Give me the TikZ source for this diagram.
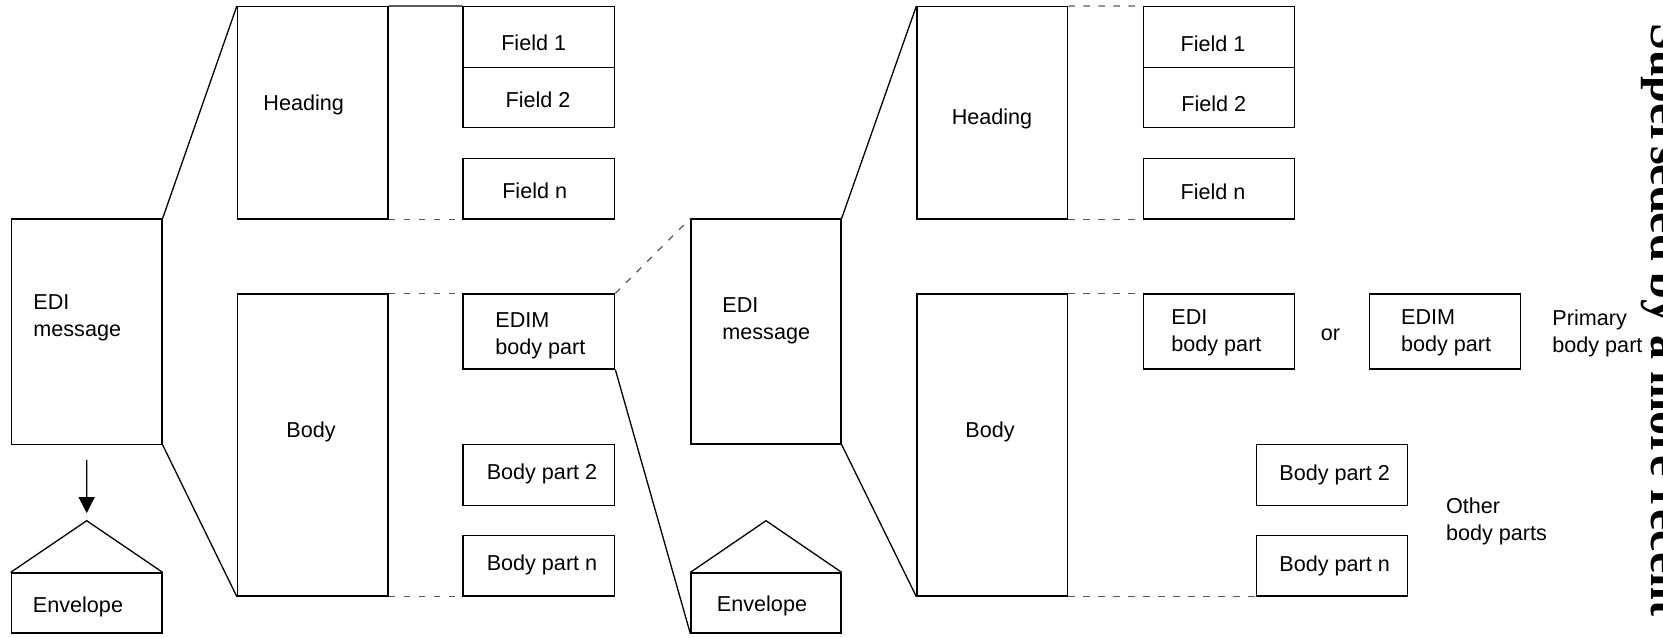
\documentclass[tikz,border=0pt]{standalone}
\usepackage{fontspec}
\setmainfont{Liberation Sans}
\newfontfamily\wmfont{Liberation Serif}
\usetikzlibrary{fit,arrows.meta}
\tikzset{
  box/.style={draw=black, line width=0.65pt, inner sep=0pt},
  lbl/.style={font=\fontsize{10.8}{13.5}\selectfont, inner sep=0pt},
  lbll/.style={lbl, align=left, anchor=west},
  solidline/.style={draw=black, line width=0.65pt},
  dashline/.style={draw=black!65, line width=0.65pt, dash pattern=on 3.3pt off 4.2pt},
  arrowline/.style={draw=black, line width=0.65pt, -{Triangle[length=8pt,width=8pt]}},
  roof/.style={draw=black, line width=0.65pt, line join=miter}
}
\begin{document}
\begin{tikzpicture}[x=0.5pt,y=-0.5pt]
\path[use as bounding box, clip] (0,0) rectangle (1663,637);
% ---------- left half ----------
\node[box, fit={(11.3,219) (162,444.3)}] (edil) {};
\node[box, fit={(11.3,573) (162,633)}] (envl) {};
\coordinate (apexl) at (86.7,520.7);
\node[box, fit={(237.5,6.7) (388,219)}] (headl) {};
\node[box, fit={(237.5,294) (388,596)}] (bodyl) {};
\node[box, fit={(463,6.7) (614.7,67.7)}] (f1l) {};
\node[box, fit={(463,67.7) (614.7,127.5)}] (f2l) {};
\node[box, fit={(463,158.3) (614.7,219)}] (fnl) {};
\node[box, fit={(463,294) (614.7,369)}] (edimbpl) {};
\node[box, fit={(463,444.7) (614.7,505.5)}] (bp2l) {};
\node[box, fit={(463,535.5) (614.7,596)}] (bpnl) {};
% ---------- right half ----------
\node[box, fit={(691,219) (841,444)}] (edir) {};
\node[box, fit={(691,573) (841,633)}] (envr) {};
\coordinate (apexr) at (766,520.7);
\node[box, fit={(917,6.7) (1067.7,219)}] (headr) {};
\node[box, fit={(917,294) (1067.7,596)}] (bodyr) {};
\node[box, fit={(1143.3,6.7) (1294.7,67.7)}] (f1r) {};
\node[box, fit={(1143.3,67.7) (1294.7,127.5)}] (f2r) {};
\node[box, fit={(1143.3,158.3) (1294.7,219)}] (fnr) {};
\node[box, fit={(1143.3,294) (1294.7,369)}] (edibpr) {};
\node[box, fit={(1369.3,294) (1520.7,369)}] (edimbpr) {};
\node[box, fit={(1256.3,444.7) (1407.7,505.5)}] (bp2r) {};
\node[box, fit={(1256.3,535.5) (1407.7,596)}] (bpnr) {};
% ---------- labels left ----------
\node[lbll] (tedil) at (33,317.5) {EDI\\message};
\node[lbl] (tenvl) at (78,607) {Envelope};
\node[lbl] (theadl) at (303.7,105) {Heading};
\node[lbl] (tbodyl) at (311,432) {Body};
\node[lbl] (tf1l) at (533.7,43) {Field 1};
\node[lbl] (tf2l) at (538,100) {Field 2};
\node[lbl] (tfnl) at (534.7,191) {Field n};
\node[lbll] (tedimbpl) at (495,335.5) {EDIM\\body part};
\node[lbl] (tbp2l) at (542,474) {Body part 2};
\node[lbl] (tbpnl) at (542,565) {Body part n};
% ---------- labels right ----------
\node[lbll] (tedir) at (722,321) {EDI\\message};
\node[lbl] (tenvr) at (762,606) {Envelope};
\node[lbl] (theadr) at (992,119) {Heading};
\node[lbl] (tbodyr) at (990,432) {Body};
\node[lbl] (tf1r) at (1213,43.3) {Field 1};
\node[lbl] (tf2r) at (1213.8,104) {Field 2};
\node[lbl] (tfnr) at (1213,191.7) {Field n};
\node[lbll] (tedibpr) at (1171,333) {EDI\\body part};
\node[lbl] (tor) at (1330.5,335) {or};
\node[lbll] (tedimbpr) at (1400.7,333) {EDIM\\body part};
\node[lbll] (tprim) at (1552,333) {Primary\\body part};
\node[lbl] (tbp2r) at (1334.7,475) {Body part 2};
\node[lbl] (tbpnr) at (1334.7,566) {Body part n};
\node[lbll] (tother) at (1445.7,521.5) {Other\\body parts};
% ---------- connectors left ----------
\draw[solidline] (edil.north east) -- (headl.north west);
\draw[solidline] (edil.south east) -- (bodyl.south west);
\draw[solidline] (headl.north east) -- (f1l.north west);
\draw[dashline] (headl.south east) -- (fnl.south west);
\draw[dashline] (bodyl.north east) -- (edimbpl.north west);
\draw[dashline] (bodyl.south east) -- (bpnl.south west);
\draw[roof] (envl.north west) -- (apexl) -- (envl.north east);
\draw[arrowline] ([yshift=-7.5pt]edil.south) -- ([yshift=3.8pt]apexl);
% ---------- link between halves ----------
\draw[dashline] (edimbpl.north east) -- (edir.north west);
\draw[solidline] (edimbpl.south east) -- (envr.south west);
% ---------- connectors right ----------
\draw[solidline] (edir.north east) -- (headr.north west);
\draw[solidline] (edir.south east) -- (bodyr.south west);
\draw[dashline] (headr.north east) -- (f1r.north west);
\draw[dashline] (headr.south east) -- (fnr.south west);
\draw[dashline] (bodyr.north east) -- (edibpr.north west);
\draw[dashline] (bodyr.south east) -- (bpnr.south west);
\draw[roof] (envr.north west) -- (apexr) -- (envr.north east);
% ---------- watermark (cut by the right edge, as in the reference) ----------
\node[font=\wmfont\bfseries\fontsize{24}{24}\selectfont, rotate=-90, anchor=base west, inner sep=0pt] (wm) at (1651,23) {Superseded by a more recent};
\end{tikzpicture}
\end{document}
